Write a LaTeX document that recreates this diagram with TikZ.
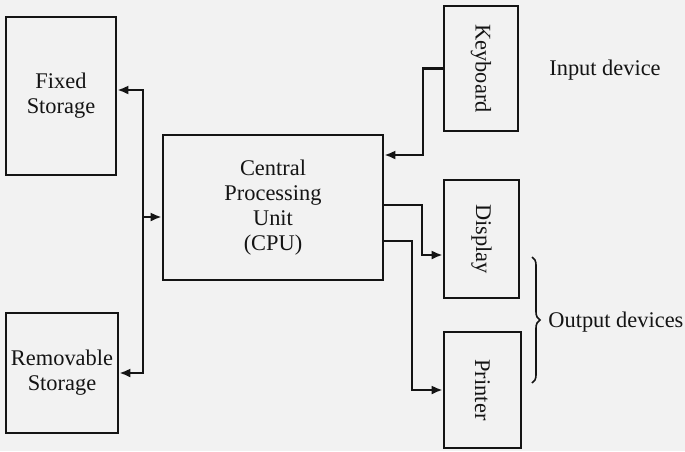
\documentclass[tikz,border=0pt]{standalone}
\usepackage{fontspec}
\setmainfont{Liberation Serif}
\usetikzlibrary{arrows.meta,decorations.pathreplacing}
\definecolor{paper}{HTML}{F2F2F2}
\definecolor{ink}{HTML}{141414}
\tikzset{
  unit/.style={draw=ink, line width=1.3pt, inner sep=0pt, align=center,
               font=\fontsize{11.2}{12.5}\selectfont, text=ink},
  link/.style={draw=ink, line width=1.2pt, ->},
  note/.style={font=\fontsize{11.2}{12.5}\selectfont, text=ink, inner sep=0pt},
  >={Latex[length=5.5pt,width=4.5pt]},
}

\begin{document}
\begin{tikzpicture}[x=0.5pt, y=-0.5pt]
    \fill[paper] (0,0) rectangle (685,451);
    \useasboundingbox (0,0) rectangle (685,451);
    % storage side
    \node[unit, minimum width=55pt, minimum height=79pt] (fixed) at (61,96) {Fixed\\Storage};
    \node[unit, minimum width=56pt, minimum height=60pt] (removable) at (62,373) {Removable\\Storage};
    \node[unit, minimum width=110pt, minimum height=72.5pt] (cpu) at (273,207.5) {Central\\Processing\\Unit\\(CPU)};
    % devices
    \node[unit, minimum width=37pt, minimum height=62.5pt] (keyboard) at (481,68.5) {\rotatebox{-90}{Keyboard}};
    \node[unit, minimum width=37.5pt, minimum height=59pt] (display) at (481.5,239) {\rotatebox{-90}{Display}};
    \node[unit, minimum width=38.5pt, minimum height=58pt] (printer) at (482.5,390) {\rotatebox{-90}{Printer}};
    \node[note] (input) at (605,70) {Input device};
    \node[note, anchor=west] (output) at (548,322) {Output devices};
    % bus and turns
    \coordinate (bustop) at (143,90);
    \coordinate (busbot) at (143,373);
    \coordinate (bus) at (143,217);
    \coordinate (kbturn) at (423,155);
    \coordinate (dspturn) at (422,205);
    \coordinate (dspin) at (422,255);
    \coordinate (prnturn) at (412,241);
    \draw[link, <->] (fixed.east |- bustop) -- (bustop) -- (busbot) -- (removable.east);
    \draw[link] (bus) -- (bus -| cpu.west);
    \draw[link] (keyboard.west) -| (kbturn) -- (kbturn -| cpu.east);
    \draw[link] (cpu.east |- dspturn) -- (dspturn) -- (dspin) -- (dspin -| display.west);
    \draw[link] (cpu.east |- prnturn) -- (prnturn) |- (printer.west);
    \draw[ink, line width=0.8pt, decorate, decoration={brace, amplitude=4pt}] (532,257) -- (532,383);
\end{tikzpicture}
\end{document}
